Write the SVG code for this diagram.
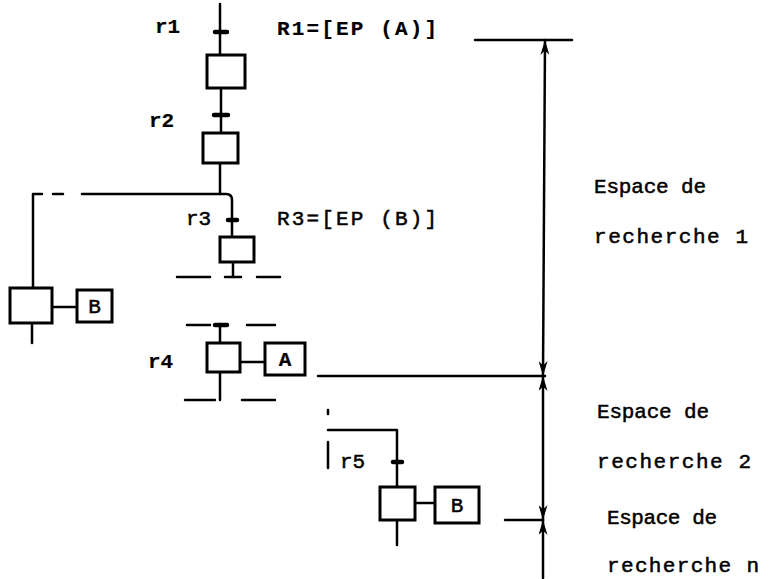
<svg xmlns="http://www.w3.org/2000/svg" width="773" height="579" viewBox="0 0 773 579">
<style>
.ln{stroke:#000;stroke-width:2.5;fill:none;stroke-linecap:round;stroke-linejoin:round}
.bx{stroke:#000;stroke-width:3;fill:#fff}
.tk{stroke:#000;stroke-width:4.5;stroke-linecap:round}
.t{font-family:"Liberation Mono","DejaVu Sans Mono",monospace;font-size:21px;fill:#000;stroke:#000;stroke-width:0.5}
.b{font-weight:bold;stroke-width:0.2}
</style>
<defs>
<marker id="ah" viewBox="0 0 10 10" refX="10" refY="5" markerWidth="15" markerHeight="9" preserveAspectRatio="none" orient="auto-start-reverse" markerUnits="userSpaceOnUse">
<path d="M0,0 L10,5 L0,10 L3,5 Z" fill="#000"/>
</marker>
</defs>
<rect width="773" height="579" fill="#fff"/>
<g id="connectors">
<path class="ln" d="M220,4 V55"/>
<path class="ln" d="M221,88 V133"/>
<path class="ln" d="M220,163 V194"/>
<path class="ln" d="M82,194 H226 Q232,194 232,200 V237"/>
<path class="ln" d="M33,288 V194 H42 M53,194 H63"/>
<path class="ln" d="M233,262 V277 M225,277 H241 M177,277 H210 M257,277 H280"/>
<path class="ln" d="M32,323 V343 M52,307 H77"/>
<path class="ln" d="M187,325 H210 M247,325 H275 M220,325 V343"/>
<path class="ln" d="M240,362 H265"/>
<path class="ln" d="M220,372 V400 M185,400 H215 M242,400 H275"/>
<path class="ln" d="M328,410 V414 M328,430 H397 V487 M328,442 V468"/>
<path class="ln" d="M415,503 H435 M397,520 V545"/>
<path class="ln" d="M475,40 H572 M318,376 H545 M505,520 H543"/>
<path class="ln" d="M545,40 L543,376" marker-start="url(#ah)" marker-end="url(#ah)"/>
<path class="ln" d="M543,376 V520" marker-start="url(#ah)" marker-end="url(#ah)"/>
<path class="ln" d="M543,578 V520" marker-end="url(#ah)"/>
<path class="tk" d="M215,32 H227 M214,115 H228 M228,220 H237 M215,325 H227 M393,462 H402"/>
</g>
<g id="step1"><rect class="bx" x="207" y="55" width="38" height="33"/></g>
<g id="step2"><rect class="bx" x="203" y="133" width="35" height="30"/></g>
<g id="step3"><rect class="bx" x="220" y="237" width="34" height="25"/></g>
<g id="stepL"><rect class="bx" x="10" y="288" width="42" height="35"/></g>
<g id="actB1"><rect class="bx" x="77" y="290" width="35" height="32"/><text class="t" x="94.5" y="313" text-anchor="middle">B</text></g>
<g id="step4"><rect class="bx" x="207" y="343" width="33" height="29"/></g>
<g id="actA"><rect class="bx" x="265" y="343" width="40" height="32"/><text class="t b" x="285" y="366" text-anchor="middle">A</text></g>
<g id="step5"><rect class="bx" x="380" y="487" width="35" height="33"/></g>
<g id="actB2"><rect class="bx" x="435" y="487" width="44" height="36"/><text class="t" x="457" y="512" text-anchor="middle">B</text></g>
<g id="labels">
<text class="t b" x="155" y="33">r1</text>
<text class="t b" x="277" y="35" textLength="160">R1=[EP (A)]</text>
<text class="t b" x="149" y="127">r2</text>
<text class="t" x="186" y="225">r3</text>
<text class="t" x="277" y="225" textLength="160">R3=[EP (B)]</text>
<text class="t b" x="148" y="368">r4</text>
<text class="t" x="340" y="468">r5</text>
<text class="t" x="594" y="193" textLength="112">Espace de</text>
<text class="t" x="594" y="243" textLength="154">recherche 1</text>
<text class="t" x="597" y="418" textLength="112">Espace de</text>
<text class="t" x="597" y="468" textLength="154">recherche 2</text>
<text class="t" x="607" y="524" textLength="110">Espace de</text>
<text class="t" x="607" y="572" textLength="152">recherche n</text>
</g>
</svg>
